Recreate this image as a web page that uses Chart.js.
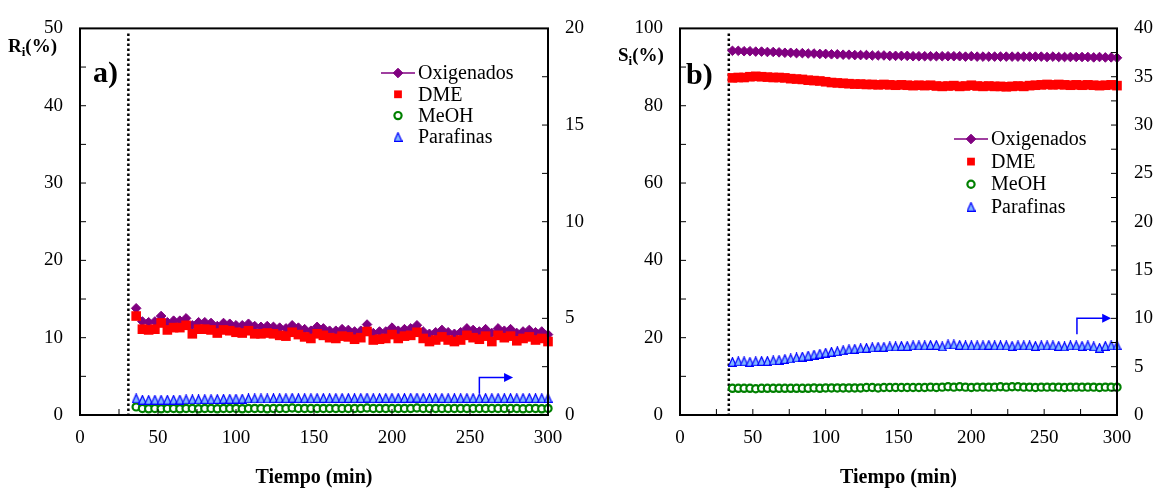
<!DOCTYPE html>
<html>
<head>
<meta charset="utf-8">
<script src="https://cdn.jsdelivr.net/npm/chart.js@4.4.1/dist/chart.umd.min.js"></script>
<style>
  html, body { margin: 0; padding: 0; background: #fff; }
  body { width: 1153px; height: 490px; position: relative; overflow: hidden; }
  canvas { position: absolute; top: 0; }
  #chartA { left: 0; }
  #chartB { left: 580px; }
</style>
</head>
<body>
<canvas id="chartA" width="600" height="490"></canvas>
<canvas id="chartB" width="573" height="490"></canvas>
<script>
// tiempo (min), same sampling in both panels
var tiempo = [36,40,44,48,52,56,60,64,68,72,
  76,80,84,88,92,96,100,104,108,112,
  116,120,124,128,132,136,140,144,148,152,
  156,160,164,168,172,176,180,184,188,192,
  196,200,204,208,212,216,220,224,228,232,
  236,240,244,248,252,256,260,264,268,272,
  276,280,284,288,292,296,300];

// a) rendimientos R_i (%)
var oxigA = [13.8,12.1,12.0,12.1,12.8,12.0,12.2,12.2,12.5,11.6,
  12.0,12.0,11.9,11.5,11.9,11.8,11.6,11.6,11.8,11.5,
  11.4,11.5,11.4,11.3,11.2,11.6,11.3,11.1,10.9,11.4,
  11.2,10.9,10.9,11.1,11.0,10.8,10.9,11.7,10.6,10.8,
  10.8,11.3,10.9,11.1,11.2,11.6,10.8,10.5,10.7,11.0,
  10.7,10.5,10.7,11.2,11.0,10.8,11.1,10.6,11.2,10.9,
  11.1,10.6,10.8,11.0,10.7,10.8,10.4];
var dmeA = [12.8,11.1,11.0,11.1,11.9,11.0,11.3,11.3,11.6,10.5,
  11.1,11.1,11.0,10.6,11.0,10.9,10.7,10.6,10.9,10.5,
  10.5,10.6,10.5,10.3,10.2,10.7,10.4,10.1,9.9,10.5,
  10.3,10.0,9.9,10.2,10.1,9.8,10.0,10.8,9.7,9.8,
  9.9,10.4,9.9,10.2,10.3,10.7,9.9,9.5,9.7,10.1,
  9.7,9.5,9.7,10.3,10.0,9.8,10.2,9.5,10.3,10.0,
  10.2,9.6,9.9,10.1,9.7,9.9,9.5];
var meohA = [1.05,0.85,0.8,0.85,0.8,0.85,0.85,0.8,0.85,0.85,
  0.8,0.85,0.85,0.8,0.85,0.85,0.85,0.8,0.85,0.85,
  0.85,0.8,0.85,0.85,0.85,0.9,0.85,0.85,0.85,0.85,
  0.85,0.85,0.85,0.85,0.85,0.85,0.85,0.9,0.85,0.85,
  0.85,0.85,0.85,0.85,0.85,0.9,0.85,0.85,0.85,0.85,
  0.85,0.85,0.85,0.85,0.85,0.85,0.85,0.85,0.85,0.85,
  0.85,0.85,0.8,0.85,0.85,0.8,0.85];
// parafinas on the right axis
var parafA = [0.86,0.79,0.78,0.79,0.79,0.79,0.79,0.8,0.81,0.81,
  0.81,0.82,0.82,0.83,0.84,0.84,0.85,0.85,0.86,0.86,
  0.86,0.86,0.87,0.87,0.87,0.89,0.87,0.87,0.87,0.88,
  0.88,0.87,0.88,0.88,0.88,0.87,0.88,0.9,0.87,0.88,
  0.88,0.89,0.88,0.88,0.89,0.9,0.88,0.87,0.87,0.88,
  0.87,0.87,0.87,0.88,0.88,0.87,0.88,0.87,0.88,0.87,
  0.88,0.87,0.88,0.88,0.87,0.87,0.87];

// b) selectividades S_i (%)
var oxigB = [94.2,94.2,94.1,94.1,94.0,94.0,93.9,93.9,93.8,93.7,
  93.7,93.6,93.6,93.5,93.5,93.4,93.4,93.3,93.3,93.2,
  93.2,93.1,93.1,93.1,93.0,93.0,93.0,92.9,92.9,92.9,
  92.9,92.8,92.8,92.8,92.8,92.8,92.8,92.8,92.8,92.8,
  92.7,92.8,92.7,92.7,92.7,92.7,92.7,92.7,92.7,92.7,
  92.7,92.7,92.7,92.7,92.6,92.7,92.6,92.6,92.6,92.6,
  92.6,92.6,92.5,92.6,92.5,92.5,92.4];
var dmeB = [87.2,87.3,87.3,87.5,87.6,87.5,87.4,87.3,87.3,87.2,
  87.0,86.9,86.8,86.6,86.5,86.4,86.2,86.0,85.9,85.8,
  85.7,85.6,85.6,85.5,85.5,85.4,85.5,85.4,85.3,85.4,
  85.3,85.2,85.3,85.2,85.3,85.1,85.0,85.1,85.2,85.0,
  85.1,85.3,85.1,85.0,85.1,85.0,85.0,84.9,85.0,85.1,
  85.0,85.2,85.3,85.4,85.5,85.4,85.5,85.4,85.3,85.4,
  85.3,85.4,85.3,85.2,85.3,85.4,85.2];
var meohB = [6.9,6.9,6.9,6.9,6.8,6.9,6.9,6.9,6.9,6.9,
  6.9,6.9,6.9,6.9,7.0,6.9,7.0,7.0,7.0,7.0,
  7.0,7.0,7.0,7.1,7.1,7.0,7.1,7.1,7.1,7.1,
  7.1,7.1,7.1,7.1,7.2,7.1,7.2,7.3,7.2,7.3,
  7.2,7.1,7.2,7.2,7.2,7.2,7.3,7.2,7.3,7.3,
  7.2,7.2,7.1,7.2,7.2,7.2,7.2,7.1,7.2,7.2,
  7.2,7.2,7.2,7.1,7.2,7.2,7.2];
var parafB = [5.5,5.55,5.55,5.5,5.55,5.6,5.6,5.65,5.7,5.8,
  5.85,5.95,6.05,6.15,6.25,6.35,6.45,6.55,6.6,6.7,
  6.8,6.85,6.9,6.95,7.0,7.05,7.05,7.1,7.1,7.15,
  7.15,7.2,7.2,7.2,7.25,7.25,7.1,7.3,7.3,7.25,
  7.2,7.2,7.2,7.2,7.25,7.2,7.2,7.2,7.15,7.2,
  7.2,7.2,7.15,7.2,7.2,7.2,7.15,7.1,7.2,7.2,
  7.15,7.2,7.1,6.95,7.15,7.2,7.2];

var nombres = ['Oxigenados', 'DME', 'MeOH', 'Parafinas'];

var serif = "'Liberation Serif', 'Times New Roman', serif";

// narrow triangle for parafinas
var tri = document.createElement('canvas');
tri.width = 9; tri.height = 10;
(function () {
  var c = tri.getContext('2d');
  c.beginPath();
  c.moveTo(4.5, 0.7); c.lineTo(8.4, 9.4); c.lineTo(0.6, 9.4); c.closePath();
  c.fillStyle = '#80b8ff'; c.fill();
  c.strokeStyle = '#0000ff'; c.lineWidth = 1.2; c.stroke();
})();

function pts(xs, ys) {
  return xs.map(function (x, i) { return { x: x, y: ys[i] }; });
}

function series(ox, dme, meoh, paraf) {
  return [
    { label: nombres[0], data: pts(tiempo, ox), yAxisID: 'y', showLine: true, order: 4,
      borderColor: '#800080', backgroundColor: '#800080', borderWidth: 1.5,
      pointStyle: 'rectRot', pointRadius: 4.8, pointBorderWidth: 1, clip: false },
    { label: nombres[1], data: pts(tiempo, dme), yAxisID: 'y', order: 3,
      borderColor: '#ff0000', backgroundColor: '#ff0000',
      pointStyle: 'rect', pointRadius: 6.8, pointBorderWidth: 0, clip: false },
    { label: nombres[2], data: pts(tiempo, meoh), yAxisID: 'y', order: 2,
      borderColor: '#008000', backgroundColor: '#ffffff',
      pointStyle: 'circle', pointRadius: 3.6, pointBorderWidth: 2.2, clip: false },
    { label: nombres[3], data: pts(tiempo, paraf), yAxisID: 'y2', order: 1,
      borderColor: '#0000ff', backgroundColor: '#80b8ff',
      pointStyle: tri, pointRadius: 5, pointBorderWidth: 1, clip: false }
  ];
}

function deco(cfg) {
  return {
    id: 'deco',
    beforeDatasetsDraw: function (chart) {
      var ctx = chart.ctx, a = chart.chartArea;
      var px = chart.scales.x.getPixelForValue(cfg.vline);
      ctx.save();
      ctx.strokeStyle = '#000'; ctx.lineWidth = 2.5; ctx.setLineDash([2.5, 2.5]);
      ctx.beginPath(); ctx.moveTo(px, a.top + 5); ctx.lineTo(px, a.bottom); ctx.stroke();
      ctx.restore();
    },
    afterDraw: function (chart) {
      var ctx = chart.ctx, a = chart.chartArea;
      var sx = chart.scales.x, sy = chart.scales.y, sy2 = chart.scales.y2;
      ctx.save();
      // frame
      ctx.strokeStyle = '#000'; ctx.lineWidth = 2;
      ctx.strokeRect(a.left, a.top, a.right - a.left, a.bottom - a.top);
      // inward ticks
      ctx.lineWidth = 1;
      ctx.beginPath();
      sx.ticks.forEach(function (t) {
        var p = sx.getPixelForValue(t.value);
        if (p <= a.left + 1 || p >= a.right - 1) return;
        ctx.moveTo(p, a.bottom); ctx.lineTo(p, a.bottom - 6);
      });
      sy.ticks.forEach(function (t) {
        var p = sy.getPixelForValue(t.value);
        if (p <= a.top + 1 || p >= a.bottom - 1) return;
        ctx.moveTo(a.left, p); ctx.lineTo(a.left + 6, p);
      });
      sy2.ticks.forEach(function (t) {
        var p = sy2.getPixelForValue(t.value);
        if (p <= a.top + 1 || p >= a.bottom - 1) return;
        ctx.moveTo(a.right, p); ctx.lineTo(a.right - 6, p);
      });
      ctx.stroke();

      // y label with subscript
      ctx.fillStyle = '#000';
      ctx.textBaseline = 'alphabetic'; ctx.textAlign = 'left';
      var x = cfg.ylab.x;
      ctx.font = 'bold 19px ' + serif;
      ctx.fillText(cfg.ylab.main, x, cfg.ylab.y);
      x += ctx.measureText(cfg.ylab.main).width;
      ctx.font = 'bold 13px ' + serif;
      ctx.fillText('i', x, cfg.ylab.y + 4);
      x += ctx.measureText('i').width;
      ctx.font = 'bold 19px ' + serif;
      ctx.fillText('(%)', x, cfg.ylab.y);

      // panel letter
      ctx.font = 'bold 30px ' + serif;
      ctx.fillText(cfg.letter.text, cfg.letter.x, cfg.letter.y);

      // legend
      var L = cfg.legend;
      ctx.font = '20px ' + serif;
      ctx.textBaseline = 'middle';
      chart.data.datasets.forEach(function (ds, i) {
        var y = L.y + i * L.dy;
        if (ds.showLine) {
          ctx.strokeStyle = ds.borderColor; ctx.lineWidth = 1.5;
          ctx.beginPath(); ctx.moveTo(L.x - 17, y); ctx.lineTo(L.x + 17, y); ctx.stroke();
        }
        ctx.fillStyle = ds.backgroundColor; ctx.strokeStyle = ds.borderColor;
        ctx.lineWidth = ds.pointBorderWidth;
        Chart.helpers.drawPoint(ctx, {
          pointStyle: ds.pointStyle, radius: ds.pointStyle === 'rect' ? 5.5 : ds.pointRadius,
          borderWidth: ds.pointBorderWidth, rotation: 0
        }, L.x, y);
        ctx.fillStyle = '#000';
        ctx.fillText(ds.label, L.x + 20, y + 1);
      });

      // arrow to the right axis
      var ar = cfg.arrow;
      var ax = sx.getPixelForValue(ar.x0), ay0 = sy.getPixelForValue(ar.y0);
      var ay1 = sy.getPixelForValue(ar.y1), tip = sx.getPixelForValue(ar.x1);
      ctx.strokeStyle = '#0000ff'; ctx.fillStyle = '#0000ff'; ctx.lineWidth = 1.5;
      ctx.beginPath(); ctx.moveTo(ax, ay0); ctx.lineTo(ax, ay1); ctx.lineTo(tip - 8, ay1); ctx.stroke();
      ctx.beginPath(); ctx.moveTo(tip, ay1); ctx.lineTo(tip - 9, ay1 - 4.5); ctx.lineTo(tip - 9, ay1 + 4.5);
      ctx.closePath(); ctx.fill();
      ctx.restore();
    }
  };
}

function axisY(max, step, major, pos, width) {
  return {
    type: 'linear', position: pos, min: 0, max: max,
    afterFit: function (s) { s.width = width; },
    grid: { display: false, drawTicks: false }, border: { display: false },
    ticks: {
      stepSize: step, autoSkip: false, padding: 17, color: '#000',
      font: { family: serif, size: 19 },
      callback: function (v) { return v % major === 0 ? v : ''; }
    }
  };
}

function makeChart(id, cfg) {
  return new Chart(document.getElementById(id), {
    type: 'scatter',
    data: { datasets: cfg.datasets },
    options: {
      responsive: false, animation: false, devicePixelRatio: 1,
      layout: { padding: { top: 24, left: 0, right: 0, bottom: 0 } },
      plugins: { legend: { display: false }, tooltip: { enabled: false } },
      scales: {
        x: {
          type: 'linear', position: 'bottom', min: 0, max: 300,
          afterFit: function (s) { s.height = 75; },
          grid: { display: false, drawTicks: false }, border: { display: false },
          ticks: {
            stepSize: 25, autoSkip: false, maxRotation: 0, padding: 12, color: '#000',
            font: { family: serif, size: 19 },
            callback: function (v) { return v % 50 === 0 ? v : ''; }
          },
          title: {
            display: true, text: 'Tiempo (min)', color: '#000',
            font: { family: serif, size: 20, weight: 'bold' },
            padding: { top: 0, bottom: 0 }
          }
        },
        y: axisY(cfg.yMax, cfg.yStep, cfg.yMajor, 'left', cfg.leftW),
        y2: axisY(cfg.y2Max, 2.5, 5, 'right', cfg.rightW)
      }
    },
    plugins: [deco(cfg)]
  });
}

makeChart('chartA', {
  datasets: series(oxigA, dmeA, meohA, parafA),
  yMax: 50, yStep: 5, yMajor: 10, y2Max: 20,
  leftW: 80, rightW: 52,
  vline: 31,
  ylab: { main: 'R', x: 8, y: 52 },
  letter: { text: 'a)', x: 93, y: 82 },
  legend: { x: 398, y: 73, dy: 21.3 },
  arrow: { x0: 256, y0: 2.8, y1: 4.85, x1: 277.6 }
});

makeChart('chartB', {
  datasets: series(oxigB, dmeB, meohB, parafB),
  yMax: 100, yStep: 10, yMajor: 20, y2Max: 40,
  leftW: 100, rightW: 36,
  vline: 33.5,
  ylab: { main: 'S', x: 38, y: 61 },
  letter: { text: 'b)', x: 106, y: 84 },
  legend: { x: 391, y: 139, dy: 22.6 },
  arrow: { x0: 272.5, y0: 20.9, y1: 25, x1: 296 }
});
</script>
</body>
</html>
